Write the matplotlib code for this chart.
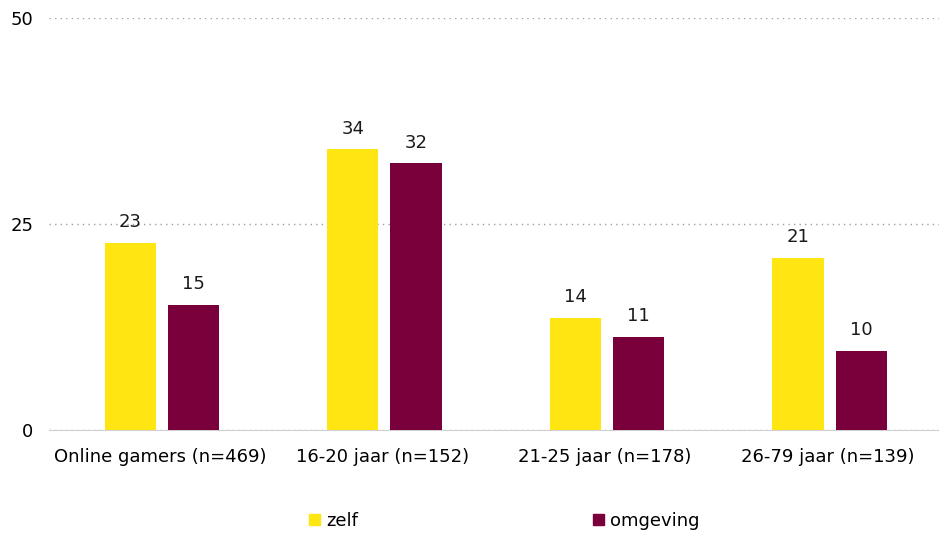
import numpy as np
import matplotlib.pyplot as plt
from matplotlib.patches import Patch

categorieen = ["Online gamers (n=469)", "16-20 jaar (n=152)", "21-25 jaar (n=178)", "26-79 jaar (n=139)"]
zelf = [22.7, 34.1, 13.6, 20.9]
omgeving = [15.2, 32.4, 11.3, 9.6]

geel = "#FFE512"
paars = "#7A003C"

plt.rcParams['font.family'] = ['DejaVu Sans']

fig = plt.figure(figsize=(9.39, 5.34), dpi=100)
ax = fig.add_axes([0.052, 0.195, 0.948, 0.771])

x = np.arange(len(categorieen))
w = 0.23
b1 = ax.bar(x - 0.134, zelf, w, color=geel, zorder=3)
b2 = ax.bar(x + 0.150, omgeving, w, color=paars, zorder=3)

for bars, vals in ((b1, zelf), (b2, omgeving)):
    for r, v in zip(bars, vals):
        ax.text(r.get_x() + r.get_width() / 2, v + 1.4, f"{round(v):d}",
                ha="center", va="bottom", fontsize=13, color="#1a1a1a")

ax.set_xlim(-0.5, len(categorieen) - 0.5)
ax.set_ylim(0, 50)
ax.set_yticks([0, 25, 50])
ax.set_xticks(x)
ax.set_xticklabels(categorieen, fontsize=13)
ax.tick_params(axis="y", labelsize=13, length=0, pad=11)
ax.tick_params(axis="x", length=0, pad=13)
ax.yaxis.grid(True, linestyle=(0, (1, 3)), color="#a0a0a0", linewidth=1.0, zorder=0)
for s in ["top", "right", "left"]:
    ax.spines[s].set_visible(False)
ax.spines["bottom"].set_color("#d0d0d0")

handles = [Patch(color=geel, label="zelf"), Patch(color=paars, label="omgeving")]
fig.legend(handles=handles, loc="center", bbox_to_anchor=(0.537, 0.025), ncol=2,
           frameon=False, fontsize=13, handlelength=0.6, handleheight=0.6,
           handletextpad=0.35, columnspacing=13)

plt.savefig("out.png")
